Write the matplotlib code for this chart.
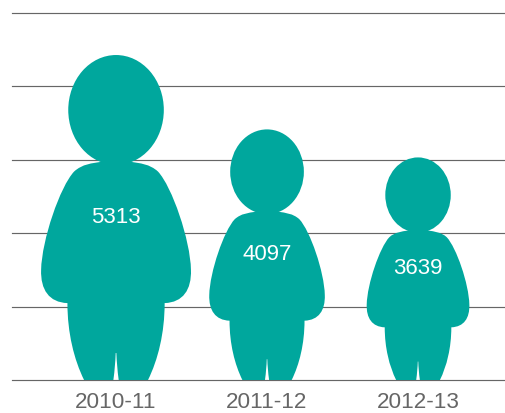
import matplotlib
matplotlib.use('Agg')
import matplotlib.pyplot as plt
from matplotlib.path import Path
from matplotlib.patches import PathPatch

years = ['2010-11', '2011-12', '2012-13']
values = [5313, 4097, 3639]
y_ticks = [0, 1200, 2400, 3600, 4800, 6000]

TEAL = '#00a79d'
GREY = '#666666'
W, H = 505, 413

# right half of the figure outline, measured on a body 976 units tall, centred on x = 0
# (body starts at the neck and walks down to the inside of the leg)
BODY = [
    (Path.MOVETO, (46, 655)),
    (Path.CURVE4, (71, 651)), (Path.CURVE4, (101, 649)), (Path.CURVE4, (126, 626)),
    (Path.CURVE4, (168, 581)), (Path.CURVE4, (223, 421)), (Path.CURVE4, (225, 331)),
    (Path.CURVE4, (227, 271)), (Path.CURVE4, (201, 233)), (Path.CURVE4, (146, 231)),
    (Path.CURVE4, (146, 141)), (Path.CURVE4, (126, 61)), (Path.CURVE4, (96, 0)),
    (Path.LINETO, (8, 0)),
    (Path.CURVE4, (4, 30)), (Path.CURVE4, (2, 55)), (Path.CURVE4, (1, 81)),
]
HEAD = (0, 811, 143.5, 165)


def figure_path():
    codes = [c for c, _ in BODY]
    verts = [v for _, v in BODY]
    # walk back up the left side, mirrored
    back = [(-x, y) for x, y in verts[::-1]]
    codes = codes + [Path.LINETO] + [Path.CURVE4] * 3 + [Path.LINETO] + [Path.CURVE4] * 12 + [Path.CLOSEPOLY]
    verts = verts + back + [verts[0]]
    return verts, codes


plt.rcParams['font.family'] = ['Liberation Sans', 'DejaVu Sans']
fig = plt.figure(figsize=(W / 100, H / 100), dpi=100)
ax = fig.add_axes([12 / W, (H - 380.0) / H, 493 / W, 367 / H])
ax.set_xlim(-0.689, 2.576)
ax.set_ylim(0, 6000)

for s in ax.spines.values():
    s.set_visible(False)
ax.set_axisbelow(True)
ax.set_yticks(y_ticks)
ax.yaxis.grid(True, color=GREY, lw=0.85)
for line in ax.yaxis.get_gridlines():
    line.set_clip_on(False)
ax.tick_params(axis='y', left=False, labelleft=False)
ax.set_xticks(range(len(years)))
ax.set_xticklabels(years, fontsize=16.2, color=GREY)
ax.tick_params(axis='x', bottom=False, pad=5)

# same pixel scale both ways, so the figures keep their proportions
x_per_y = (3.265 / 493) / (6000 / 367)

verts, codes = figure_path()
for i, v in enumerate(values):
    k = v / 976
    pts = [(i + x * k * x_per_y, y * k) for x, y in verts]
    ax.add_patch(PathPatch(Path(pts, codes), fc=TEAL, ec='none', zorder=3))

    cx, cy, a, b = HEAD
    # head as a unit circle path stretched to the ellipse
    circle = Path.unit_circle()
    head_pts = [(i + (cx + a * px) * k * x_per_y, (cy + b * py) * k) for px, py in circle.vertices]
    ax.add_patch(PathPatch(Path(head_pts, circle.codes), fc=TEAL, ec='none', zorder=3))

    ax.text(i, v * 0.499, str(v), color='white', fontsize=16, ha='center', va='center', zorder=4)

fig.savefig('out.png', dpi=100)
